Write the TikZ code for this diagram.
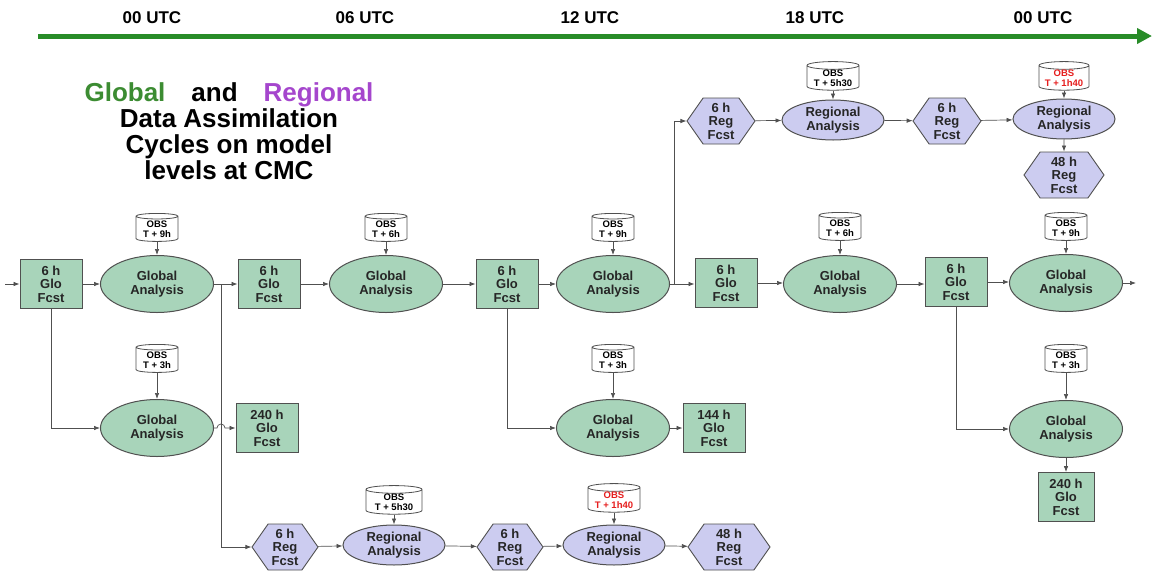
\documentclass[tikz,border=0pt]{standalone}
\usepackage{fontspec}
\setmainfont{Liberation Sans}
\usetikzlibrary{shapes.geometric,shapes.symbols,arrows.meta,calc}
\definecolor{glo}{RGB}{168,212,186}
\definecolor{reg}{RGB}{204,204,240}
\definecolor{tlc}{RGB}{40,140,40}
\definecolor{ln}{RGB}{80,80,80}
\definecolor{obsred}{RGB}{230,30,30}
\definecolor{rtitle}{RGB}{165,70,205}
\definecolor{gtitle}{RGB}{60,140,50}
\begin{document}
\begin{tikzpicture}[x=1pt,y=-1pt,
  nodefont/.style={font=\bfseries\fontsize{13}{13.5}\selectfont, text=black!85},
  globox/.style={draw=ln, fill=glo, line width=0.9pt, minimum width=62pt, minimum height=49pt, inner sep=0pt, align=center, nodefont},
  gloell/.style={ellipse, draw=ln, fill=glo, line width=1pt, minimum width=113pt, minimum height=57pt, inner sep=0pt, align=center, nodefont},
  regell/.style={ellipse, draw=ln, fill=reg, line width=1pt, minimum width=102pt, minimum height=40pt, inner sep=0pt, align=center, nodefont},
  reghex/.style={signal, signal to=west and east, signal pointer angle=110, draw=ln, fill=reg, line width=0.9pt, minimum width=#1, minimum height=46pt, inner sep=0pt, align=center, nodefont},
  obs/.style={cylinder, shape border rotate=90, aspect=0.2, draw=ln, fill=white, line width=0.8pt, minimum width=#1, minimum height=28pt, inner sep=0pt, align=center, font=\bfseries\fontsize{9.5}{10}\selectfont},
  conn/.style={draw=ln, line width=0.7pt, -{Latex[length=6pt,width=4.5pt]}},
  utc/.style={font=\bfseries\fontsize{17}{17}\selectfont}
]
\useasboundingbox (0,0) rectangle (1154,571);
\fill[white] (0,0) rectangle (1154,571);

% timeline
\coordinate (tl0) at (38,36);
\coordinate (tl1) at (1152,36);
\draw[line width=5pt, tlc, -{Triangle[length=15pt,width=15pt]}] (tl0) -- (tl1);
\node[utc] (u1) at (152,18) {00 UTC};
\node[utc] (u2) at (365,18) {06 UTC};
\node[utc] (u3) at (590,18) {12 UTC};
\node[utc] (u4) at (815,18) {18 UTC};
\node[utc] (u5) at (1043,18) {00 UTC};

% title
\node[font=\bfseries\fontsize{26}{26}\selectfont, align=center] (title) at (229,131)
  {\textcolor{gtitle}{Global}\hspace{1em}and\hspace{1em}\textcolor{rtitle}{Regional}\\Data Assimilation\\Cycles on model\\levels at CMC};

% global main row
\node[globox] (g1) at (51,284) {6 h\\Glo\\Fcst};
\node[gloell] (ga1) at (157,284) {Global\\Analysis};
\node[obs=42pt] (o1) at (157,229) {OBS\\T + 9h};
\node[globox] (g2) at (269,284) {6 h\\Glo\\Fcst};
\node[gloell] (ga2) at (386,284) {Global\\Analysis};
\node[obs=42pt] (o2) at (386,229) {OBS\\T + 6h};
\node[globox] (g3) at (507,284) {6 h\\Glo\\Fcst};
\node[gloell] (ga3) at (613,284) {Global\\Analysis};
\node[obs=42pt] (o3) at (613,229) {OBS\\T + 9h};
\node[globox] (g4) at (726,283) {6 h\\Glo\\Fcst};
\node[gloell] (ga4) at (840,284) {Global\\Analysis};
\node[obs=42pt] (o4) at (840,228) {OBS\\T + 6h};
\node[globox] (g5) at (956,282) {6 h\\Glo\\Fcst};
\node[gloell] (ga5) at (1066,283) {Global\\Analysis};
\node[obs=42pt] (o5) at (1066,228) {OBS\\T + 9h};

% global lower row
\node[gloell] (ga1b) at (157,428) {Global\\Analysis};
\node[obs=42pt] (o1b) at (157,360) {OBS\\T + 3h};
\node[globox] (b240a) at (267,428) {240 h\\Glo\\Fcst};
\node[gloell] (ga3b) at (613,428) {Global\\Analysis};
\node[obs=42pt] (o3b) at (613,360) {OBS\\T + 3h};
\node[globox] (b144) at (714,428) {144 h\\Glo\\Fcst};
\node[gloell] (ga5b) at (1066,429) {Global\\Analysis};
\node[obs=42pt] (o5b) at (1066,360) {OBS\\T + 3h};
\node[globox, minimum width=56pt] (b240b) at (1066,497) {240 h\\Glo\\Fcst};

% regional top row
\node[reghex=68pt] (h4) at (721,121) {6 h\\Reg\\Fcst};
\node[regell] (ra3) at (833,120) {Regional\\Analysis};
\node[obs=52pt] (o6) at (833,78) {OBS\\T + 5h30};
\node[reghex=68pt] (h5) at (947,121) {6 h\\Reg\\Fcst};
\node[regell] (ra4) at (1064,119) {Regional\\Analysis};
\node[obs=50pt, text=obsred] (o7) at (1064,78) {OBS\\T + 1h40};
\node[reghex=80pt] (h6) at (1064,175) {48 h\\Reg\\Fcst};

% regional bottom row
\node[reghex=66pt] (h1) at (285,547) {6 h\\Reg\\Fcst};
\node[regell] (ra1) at (394,545) {Regional\\Analysis};
\node[obs=56pt] (o8) at (394,502) {OBS\\T + 5h30};
\node[reghex=66pt] (h2) at (510,547) {6 h\\Reg\\Fcst};
\node[regell] (ra2) at (614,545) {Regional\\Analysis};
\node[obs=52pt, text=obsred] (o9) at (614,500) {OBS\\T + 1h40};
\node[reghex=82pt] (h3) at (729,547) {48 h\\Reg\\Fcst};

% connectors main row
\coordinate (instart) at (5,284);
\coordinate (outend) at (1136,283);
\draw[conn] (instart) -- (g1);
\draw[conn] (g1) -- (ga1);
\draw[conn] (ga1) -- (g2);
\draw[conn] (g2) -- (ga2);
\draw[conn] (ga2) -- (g3);
\draw[conn] (g3) -- (ga3);
\draw[conn] (ga3.east) -- (g4.west |- ga3.east);
\draw[conn] (g4) -- (ga4.west |- g4.east);
\draw[conn] (ga4.east) -- (g5.west |- ga4.east);
\draw[conn] (g5) -- (ga5.west |- g5.east);
\draw[conn] (ga5) -- (outend);
\foreach \o/\a in {o1/ga1,o2/ga2,o3/ga3,o4/ga4,o5/ga5,o1b/ga1b,o3b/ga3b,o5b/ga5b,o6/ra3,o7/ra4,o8/ra1,o9/ra2}
  \draw[conn] (\o.south) -- (\a.north);

% lower global branches
\draw[conn] (g1.south) |- (ga1b.west);
\coordinate (br1) at (221,284);
\draw[conn] (ga1b.east) -- ($(br1 |- ga1b.east)+(-4,0)$) arc[start angle=180,end angle=360,radius=4] -- (b240a.west);
\draw[conn] (br1) |- (h1.west);
\draw[conn] (g3.south) |- (ga3b.west);
\draw[conn] (ga3b) -- (b144);
\draw[conn] (g5.south) |- (ga5b.west);
\draw[conn] (ga5b) -- (b240b);

% regional connectors
\coordinate (br3) at (674,284);
\draw[conn] (br3) |- (h4.west);
\draw[conn] (h4) -- (ra3);
\draw[conn] (ra3) -- (h5);
\draw[conn] (h5) -- (ra4);
\draw[conn] (ra4) -- (h6);
\draw[conn] (h1) -- (ra1);
\draw[conn] (ra1) -- (h2);
\draw[conn] (h2) -- (ra2);
\draw[conn] (ra2) -- (h3);
\end{tikzpicture}
\end{document}
